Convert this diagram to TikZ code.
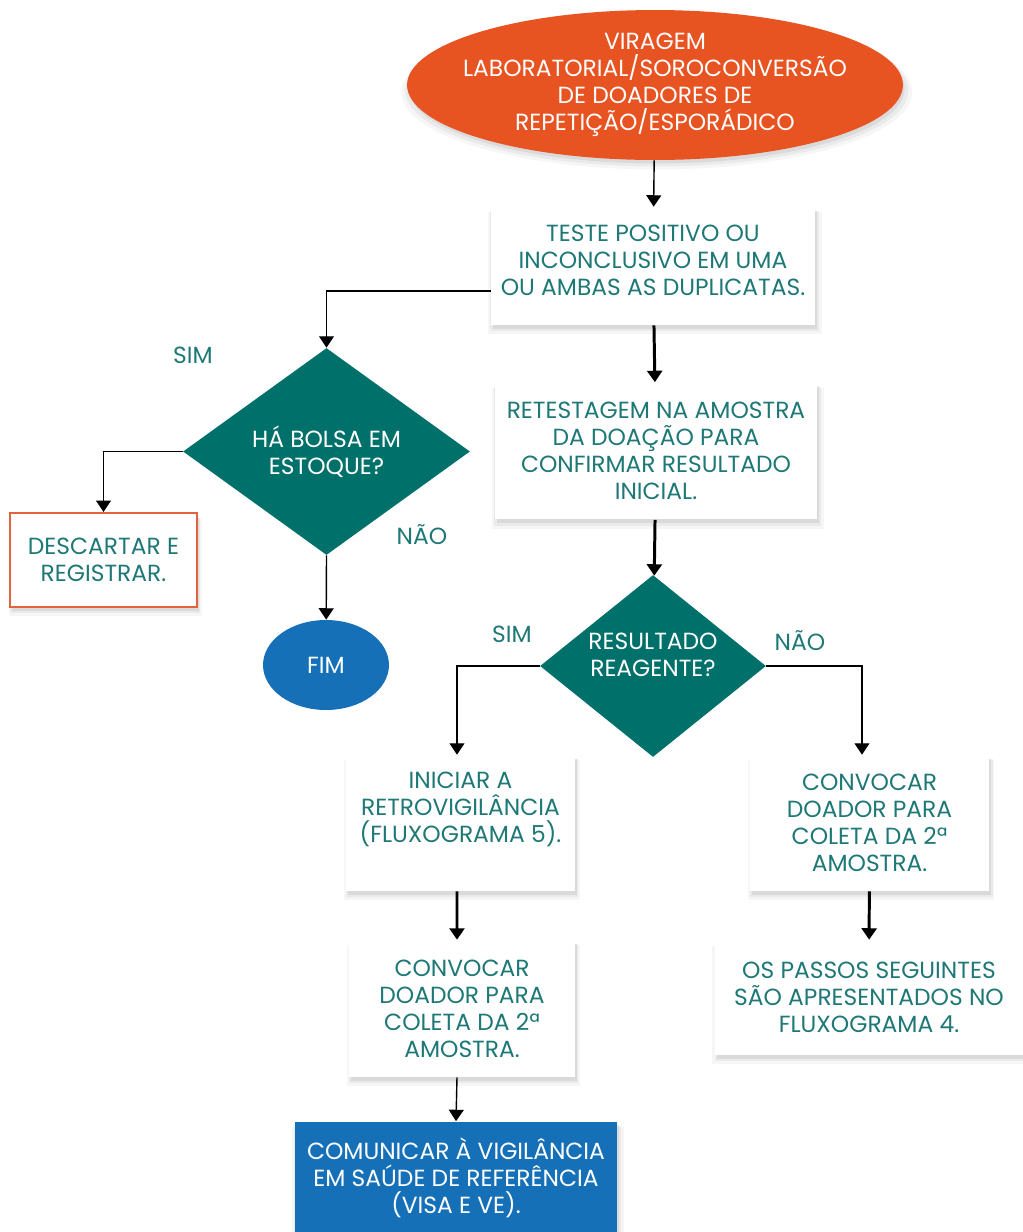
\documentclass[tikz,border=0pt]{standalone}
\usepackage{fontspec}
\setmainfont{Poppins}
\usetikzlibrary{shapes.geometric,arrows.meta,shadows}

\definecolor{laranja}{RGB}{231,83,33}
\definecolor{bordalaranja}{RGB}{226,100,60}
\definecolor{verdeescuro}{RGB}{0,112,106}
\definecolor{textoverde}{RGB}{30,120,118}
\definecolor{azul}{RGB}{21,112,184}

\begin{document}
\begin{tikzpicture}[x=0.02cm,y=-0.02cm,
  font=\fontsize{13.3}{15.4}\selectfont,
  sombra/.style={
    drop shadow={opacity=.07,shadow xshift=1pt,shadow yshift=-4pt,shadow scale=1.03},
    drop shadow={opacity=.1,shadow xshift=1pt,shadow yshift=-3pt,shadow scale=1.015},
    drop shadow={opacity=.15,shadow xshift=1pt,shadow yshift=-2pt}},
  caixa/.style={rectangle,fill=white,text=textoverde,align=center,inner sep=0pt,sombra},
  decisao/.style={diamond,fill=verdeescuro,text=white,align=center,inner sep=0pt},
  rotulo/.style={text=textoverde},
  seta/.style={-{Triangle[width=8.5pt,length=6.5pt]},line width=0.8pt},
  setagrossa/.style={seta,line width=1.7pt}]
\useasboundingbox (0,0) rectangle (1023,1232);

% Inicio
\node[ellipse,fill=laranja,minimum width=9.92cm,minimum height=3cm,inner sep=0pt,sombra,
  label={[text=white,align=center]center:{VIRAGEM\\LABORATORIAL/SOROCONVERSÃO\\DE DOADORES DE\\REPETIÇÃO/ESPORÁDICO}}]
  (inicio) at (655,85) {};

% Caixas
\node[caixa,minimum width=6.48cm,minimum height=2.36cm,
  label={[text=textoverde,align=center,yshift=0.12cm]center:{TESTE POSITIVO OU\\INCONCLUSIVO EM UMA\\OU AMBAS AS DUPLICATAS.}}]
  (teste) at (653,266) {};
\node[caixa,minimum width=6.44cm,minimum height=2.74cm] (retestagem) at (656,451)
  {RETESTAGEM NA AMOSTRA\\DA DOAÇÃO PARA\\CONFIRMAR RESULTADO\\INICIAL.};
\node[caixa,draw=bordalaranja,line width=1.2pt,minimum width=3.74cm,minimum height=1.88cm] (descartar) at (103.5,560)
  {DESCARTAR E\\REGISTRAR.};
\node[caixa,minimum width=4.58cm,minimum height=2.72cm,
  label={[text=textoverde,align=center,yshift=0.28cm]center:{INICIAR A\\RETROVIGILÂNCIA\\(FLUXOGRAMA 5).}}]
  (retro) at (460.5,823) {};
\node[caixa,minimum width=4.78cm,minimum height=2.72cm] (convocarB) at (869.5,823)
  {CONVOCAR\\DOADOR PARA\\COLETA DA 2ª\\AMOSTRA.};
\node[caixa,minimum width=4.52cm,minimum height=2.74cm] (convocarA) at (462,1008.5)
  {CONVOCAR\\DOADOR PARA\\COLETA DA 2ª\\AMOSTRA.};
\node[caixa,minimum width=6.16cm,minimum height=2.3cm] (passos) at (869,997.5)
  {OS PASSOS SEGUINTES\\SÃO APRESENTADOS NO\\FLUXOGRAMA 4.};
\node[caixa,fill=azul,text=white,minimum width=6.44cm,minimum height=2.26cm] (comunicar) at (456,1178)
  {COMUNICAR À VIGILÂNCIA\\EM SAÚDE DE REFERÊNCIA\\(VISA E VE).};

% Decisoes
\node[decisao,minimum width=5.74cm,minimum height=4.14cm] (bolsa) at (326.5,451.5)
  {HÁ BOLSA EM\\ESTOQUE?};
\node[decisao,minimum width=4.52cm,minimum height=3.64cm,
  label={[text=white,align=center,yshift=0.22cm]center:{RESULTADO\\REAGENTE?}}]
  (reagente) at (653,666) {};
\node[ellipse,fill=azul,text=white,minimum width=2.52cm,minimum height=1.8cm,inner sep=0pt] (fim) at (326,665) {FIM};

% Rotulos
\node[rotulo] (sim1) at (193,355) {SIM};
\node[rotulo] (nao1) at (422,535) {NÃO};
\node[rotulo] (sim2) at (512,634) {SIM};
\node[rotulo] (nao2) at (800,641) {NÃO};

% Setas
\draw[seta] (inicio) -- (teste);
\draw[seta] ([yshift=-0.5cm]teste.west) -| (bolsa.north);
\draw[setagrossa] (teste) -- (retestagem);
\draw[seta] (bolsa.west) -| (descartar.north);
\draw[seta] (bolsa.south) -- (fim);
\draw[setagrossa] (retestagem) -- (reagente);
\draw[seta] (reagente.west) -| ([xshift=-0.07cm]retro.north);
\draw[seta] (reagente.east) -| ([xshift=-0.15cm]convocarB.north);
\draw[setagrossa] ([xshift=-0.07cm]retro.south) -- ([xshift=-0.1cm]convocarA.north);
\draw[setagrossa] (convocarB) -- (passos);
\draw[seta] ([xshift=-0.1cm]convocarA.south) -- (comunicar.north);
\end{tikzpicture}
\end{document}
